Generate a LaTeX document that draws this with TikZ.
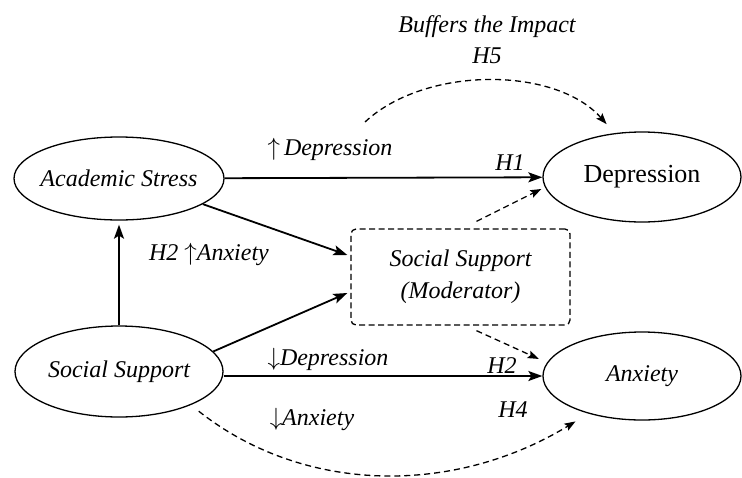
\documentclass[tikz,border=0pt]{standalone}
\usepackage{fontspec}
\setmainfont{Liberation Serif}
\usetikzlibrary{arrows.meta,shapes.geometric}
\newcommand{\ovaltext}[1]{\makebox[0pt]{#1}}

\begin{document}
\begin{tikzpicture}[x=1pt,y=-1pt,
    oval/.style={ellipse,draw,line width=1.3pt,inner sep=0pt},
    ovalit/.style={oval,font=\fontsize{24}{28}\selectfont\itshape},
    lbl/.style={font=\fontsize{24}{28}\selectfont\itshape,anchor=base,inner sep=0pt},
    solidarrow/.style={line width=1.8pt,-{Stealth[length=14pt,width=10pt,inset=3pt]}},
    dasharrow/.style={line width=1.3pt,dash pattern=on 6pt off 4pt,-{Stealth[length=11pt,width=8pt,inset=2pt]}}]
        \useasboundingbox (0,0) rectangle (742,477);
        % constructs
        \node (as) [ovalit,minimum width=210pt,minimum height=83pt] at (119,178.5) {\ovaltext{Academic Stress}};
        \node (ss) [ovalit,minimum width=208pt,minimum height=91pt] at (119,371.5) {\ovaltext{Social Support}};
        \node (dep) [oval,minimum width=198pt,minimum height=90pt,font=\fontsize{26}{30}\selectfont] at (642,177) {\ovaltext{Depression}};
        \node (anx) [ovalit,minimum width=198pt,minimum height=88pt] at (642,376) {\ovaltext{Anxiety}};
        \node (mod) [draw,line width=1.3pt,dash pattern=on 6pt off 3.5pt,rounded corners=5pt,
          minimum width=219pt,minimum height=96pt,align=center,
          font=\fontsize{24}{32}\selectfont\itshape] at (460.5,277) {Social Support\\(Moderator)};
        % paths
        \draw[solidarrow] (as) -- (dep);
        \draw[solidarrow,shorten >=4pt] (ss.north) -- (as.south);
        \draw[solidarrow] (as.-17) -- ([xshift=-3pt,yshift=22pt]mod.west);
        \draw[solidarrow] (ss.12) -- ([xshift=-3pt,yshift=-16pt]mod.west);
        \draw[solidarrow] (ss.east |- anx.west) -- (anx.west);
        \draw[dasharrow,shorten >=4pt] ([xshift=16pt,yshift=7pt]mod.north) -- (dep.186);
        \draw[dasharrow,shorten >=9pt] ([xshift=16pt,yshift=-5pt]mod.south) -- (anx.172);
        \coordinate (h5from) at (365,122);
        \draw[dasharrow,shorten >=12pt] (h5from) .. controls (425,66) and (555,66) .. (dep.122);
        \draw[dasharrow,shorten <=10pt,shorten >=15pt] (ss.-25) .. controls (305,495) and (455,495) .. (anx.215);
        % labels
        \node (bufftxt) [lbl] at (487,32) {Buffers the Impact};
        \node (h5txt) [lbl] at (487,63) {H5};
        \node (updep) [lbl] at (330,155) {$\uparrow$\,Depression};
        \node (h1txt) [lbl] at (510,170) {H1};
        \node (upanx) [lbl] at (209,260) {H2 $\uparrow$Anxiety};
        \node (downdep) [lbl] at (328,365) {$\downarrow$Depression};
        \node (h2txt) [lbl] at (502,373) {H2};
        \node (h4txt) [lbl] at (513,417) {H4};
        \node (downanx) [lbl] at (312,425) {$\downarrow$Anxiety};
      \end{tikzpicture}
\end{document}
